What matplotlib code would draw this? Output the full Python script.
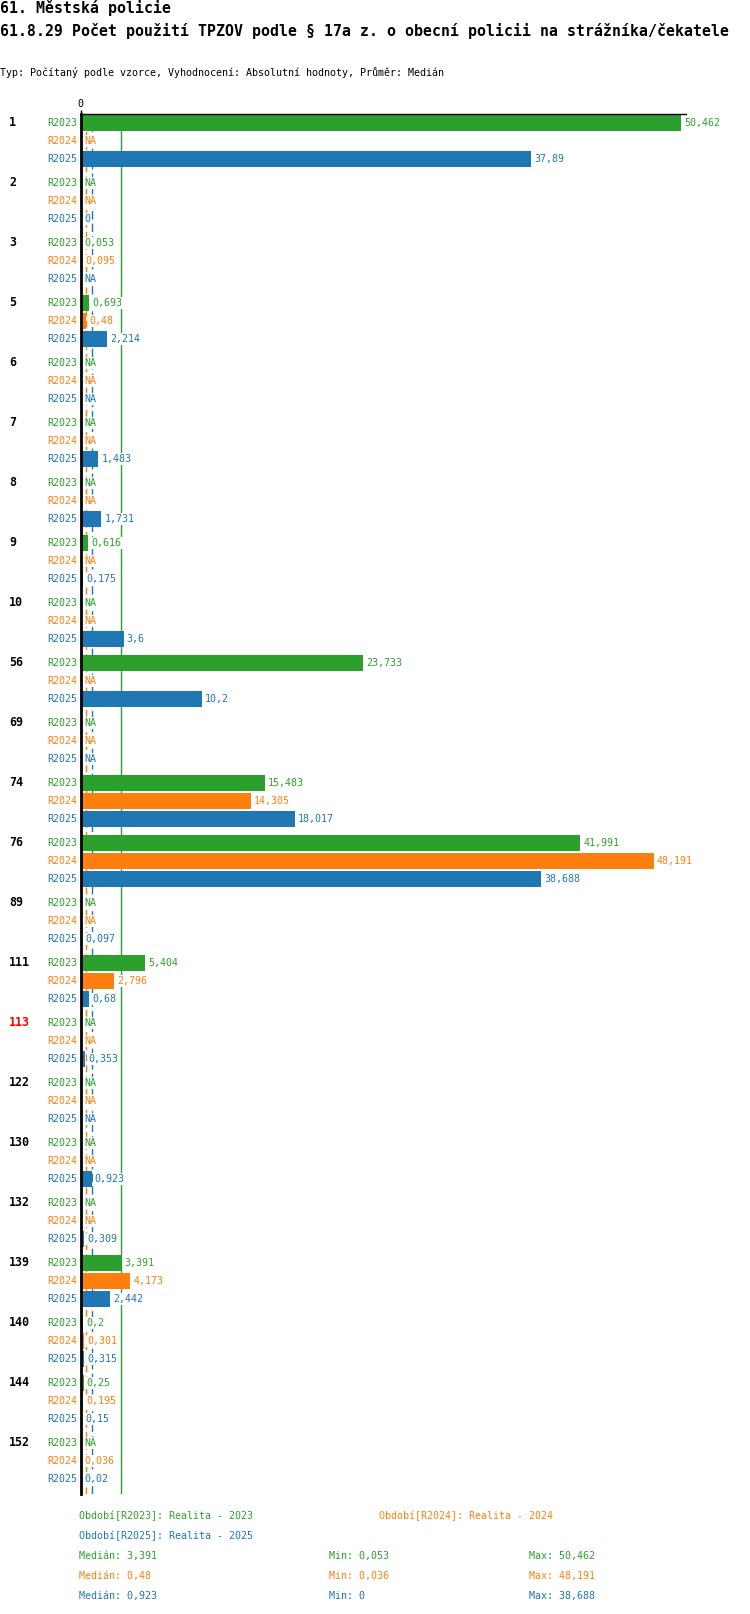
import numpy as np
import matplotlib
matplotlib.use("Agg")
import matplotlib.pyplot as plt

plt.rcParams['font.family'] = ['DejaVu Sans Mono']

groups = ["1", "2", "3", "5", "6", "7", "8", "9", "10", "56", "69", "74", "76",
          "89", "111", "113", "122", "130", "132", "139", "140", "144", "152"]
highlight = ["113"]
NA = None
r2023 = [50.462, NA, 0.053, 0.693, NA, NA, NA, 0.616, NA, 23.733, NA, 15.483, 41.991,
         NA, 5.404, NA, NA, NA, NA, 3.391, 0.2, 0.25, NA]
r2024 = [NA, NA, 0.095, 0.48, NA, NA, NA, NA, NA, NA, NA, 14.305, 48.191,
         NA, 2.796, NA, NA, NA, NA, 4.173, 0.301, 0.195, 0.036]
r2025 = [37.89, 0, NA, 2.214, NA, 1.483, 1.731, 0.175, 3.6, 10.2, NA, 18.017, 38.688,
         0.097, 0.68, 0.353, NA, 0.923, 0.309, 2.442, 0.315, 0.15, 0.02]
series = ["R2023", "R2024", "R2025"]
periods = ["Realita - 2023", "Realita - 2024", "Realita - 2025"]
colors = ["#2ca02c", "#ff7f0e", "#1f77b4"]
title1 = "61. Městská policie"
title2 = "61.8.29 Počet použití TPZOV podle § 17a z. o obecní policii na strážníka/čekatele"
subtitle = "Typ: Počítaný podle vzorce, Vyhodnocení: Absolutní hodnoty, Průměr: Medián"


def fmt(v):
    return ("%g" % v).replace(".", ",")


W, H = 750, 1614
fig = plt.figure(figsize=(W / 100, H / 100), dpi=100)
ax = fig.add_axes([80.7 / W, 1 - 1494 / H, (686 - 80.7) / W, (1494 - 114) / H])

GP, RP = 60, 18  # group / row pitch in px
ax.set_ylim(1380, 0)
ax.set_xlim(0, 50.9)

small = 7.2
data = [r2023, r2024, r2025]
for j, (name, vals, c) in enumerate(zip(series, data, colors)):
    for i, v in enumerate(vals):
        y = 9 + GP * i + RP * j
        ax.annotate(name, xy=(77, y), xycoords=('figure pixels', 'data'),
                    ha='right', va='center', color=c, fontsize=small, annotation_clip=False)
        if v is None:
            x, lab = 0, "NA"
        else:
            ax.barh(y, v, height=16, color=c, zorder=2, linewidth=0)
            x, lab = v, fmt(v)
        ax.annotate(lab, xy=(x, y), xytext=(2.3, 0), textcoords='offset points',
                    ha='left', va='center', color=c, fontsize=small, zorder=4,
                    bbox=dict(facecolor='white', edgecolor='none', pad=1.0),
                    annotation_clip=False)

for i, g in enumerate(groups):
    ax.annotate(g, xy=(9, 9 + GP * i), xycoords=('figure pixels', 'data'),
                ha='left', va='center', fontsize=8.4, fontweight='bold',
                color='red' if g in highlight else 'black', annotation_clip=False)

# median lines
meds = [np.median([v for v in vals if v is not None]) for vals in data]
styles = ['-', (0, (5, 3)), (0, (6, 3))]
for m, c, ls in zip(meds, colors, styles):
    ax.axvline(m, color=c, linestyle=ls, linewidth=1, zorder=1)

for s in ['right', 'bottom']:
    ax.spines[s].set_visible(False)
ax.spines['top'].set_color('black')
ax.spines['top'].set_linewidth(1)
ax.spines['left'].set_color('black')
ax.spines['left'].set_linewidth(2)
ax.spines['left'].set_zorder(5)
ax.set_yticks([])
ax.xaxis.tick_top()
ax.set_xticks([0])
ax.set_xticklabels(["0"], fontsize=small)
ax.tick_params(axis='x', length=3, width=1, pad=0.5)

# titles
fig.text(0, 1 - 8 / H, title1, fontsize=10.7, fontweight='bold', va='center', ha='left')
fig.text(0, 1 - 31 / H, title2, fontsize=10.7, fontweight='bold', va='center', ha='left')
fig.text(0, 1 - 73 / H, subtitle, fontsize=small, va='center', ha='left')

# legend / stats
def ftxt(x, ytop, s, c):
    fig.text(x / W, 1 - ytop / H, s, fontsize=small, color=c, va='center', ha='left')

ftxt(79, 1516, "Období[%s]: %s" % (series[0], periods[0]), colors[0])
ftxt(379, 1516, "Období[%s]: %s" % (series[1], periods[1]), colors[1])
ftxt(79, 1536, "Období[%s]: %s" % (series[2], periods[2]), colors[2])
for k, (vals, c) in enumerate(zip(data, colors)):
    vv = [v for v in vals if v is not None]
    yy = 1556 + 20 * k
    ftxt(79, yy, "Medián: " + fmt(np.median(vv)), c)
    ftxt(329, yy, "Min: " + fmt(min(vv)), c)
    ftxt(529, yy, "Max: " + fmt(max(vv)), c)

fig.savefig("out.png", dpi=100)
